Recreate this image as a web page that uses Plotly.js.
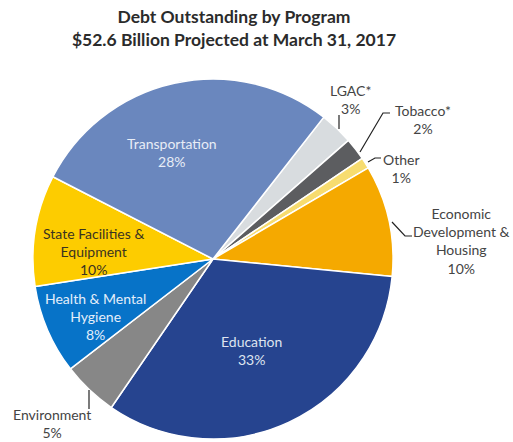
<!DOCTYPE html>
<html>
<head>
<meta charset="utf-8">
<script src="https://cdn.plot.ly/plotly-3.0.1.min.js"></script>
<style>html,body{margin:0;padding:0;background:#fff;}#chart{width:513px;height:442px;}</style>
</head>
<body>
<div id="chart"></div>
<script>
const categories = ["LGAC*", "Tobacco*", "Other", "Economic Development & Housing", "Education", "Environment", "Health & Mental Hygiene", "State Facilities & Equipment", "Transportation"];
const shares = [3, 2, 1, 10, 33, 5, 8, 10, 28];
const sliceColors = ["#d8dcdf", "#5c5d60", "#f7dc6f", "#f5a900", "#26448f", "#878787", "#0773c8", "#fdcc00", "#6a87be"];
const labelTexts = ["LGAC*<br>3%", "Tobacco*<br>2%", "Other<br>1%", "Economic<br>Development &<br>Housing<br>10%", "Education<br>33%", "Environment<br>5%", "Health & Mental<br>Hygiene<br>8%", "State Facilities &<br>Equipment<br>10%", "Transportation<br>28%"];

const W = 513, H = 442;
const px = x => x / W;
const py = y => 1 - y / H;

// label anchor positions (pixels) and colours
const labelPos = [[350,100],[423,120],[401,168],[461,241],[251,350],[52,423],[95,316],[93,251],[172,152]];
const labelColor = ["#444","#444","#444","#444","#dfe4f0","#444","#e4eefa","#3a3320","#e8edf6"];

const annotations = categories.map((c, i) => ({
  xref: "paper", yref: "paper",
  x: px(labelPos[i][0]), y: py(labelPos[i][1]),
  xanchor: "center", yanchor: "middle",
  text: labelTexts[i], showarrow: false,
  font: {family: "Lato, 'Open Sans', sans-serif", size: 14, color: labelColor[i]}
}));

const leaders = [
  [[339,115],[339,129]],
  [[360,152],[383,113],[390,113]],
  [[368,162],[375,158],[381,158]],
  [[392,222],[405,236],[412,236]],
  [[89,390],[89,409]]
];
const shapes = leaders.map(pts => ({
  type: "path", xref: "paper", yref: "paper",
  path: pts.map((p, k) => (k ? "L" : "M") + px(p[0]) + "," + py(p[1])).join(" "),
  line: {color: "#222", width: 1.2}
}));

const data = [{
  type: "pie",
  labels: categories,
  values: shares,
  sort: false,
  direction: "clockwise",
  rotation: 38,
  marker: {colors: sliceColors, line: {color: "#ffffff", width: 1.5}},
  textinfo: "none",
  hoverinfo: "label+percent",
  domain: {x: [px(33), px(393)], y: [py(439), py(79)]}
}];

const layout = {
  width: W, height: H,
  margin: {l: 0, r: 0, t: 0, b: 0},
  paper_bgcolor: "#ffffff",
  showlegend: false,
  title: {
    text: "<b>Debt Outstanding by Program<br>$52.6 Billion Projected at March 31, 2017</b>",
    x: px(234), xanchor: "center", y: py(23), yanchor: "middle",
    font: {family: "Lato, 'Open Sans', sans-serif", size: 17.5, color: "#2b2b2b"}
  },
  annotations: annotations,
  shapes: shapes
};

Plotly.newPlot("chart", data, layout, {displayModeBar: false, staticPlot: true});
</script>
</body>
</html>
